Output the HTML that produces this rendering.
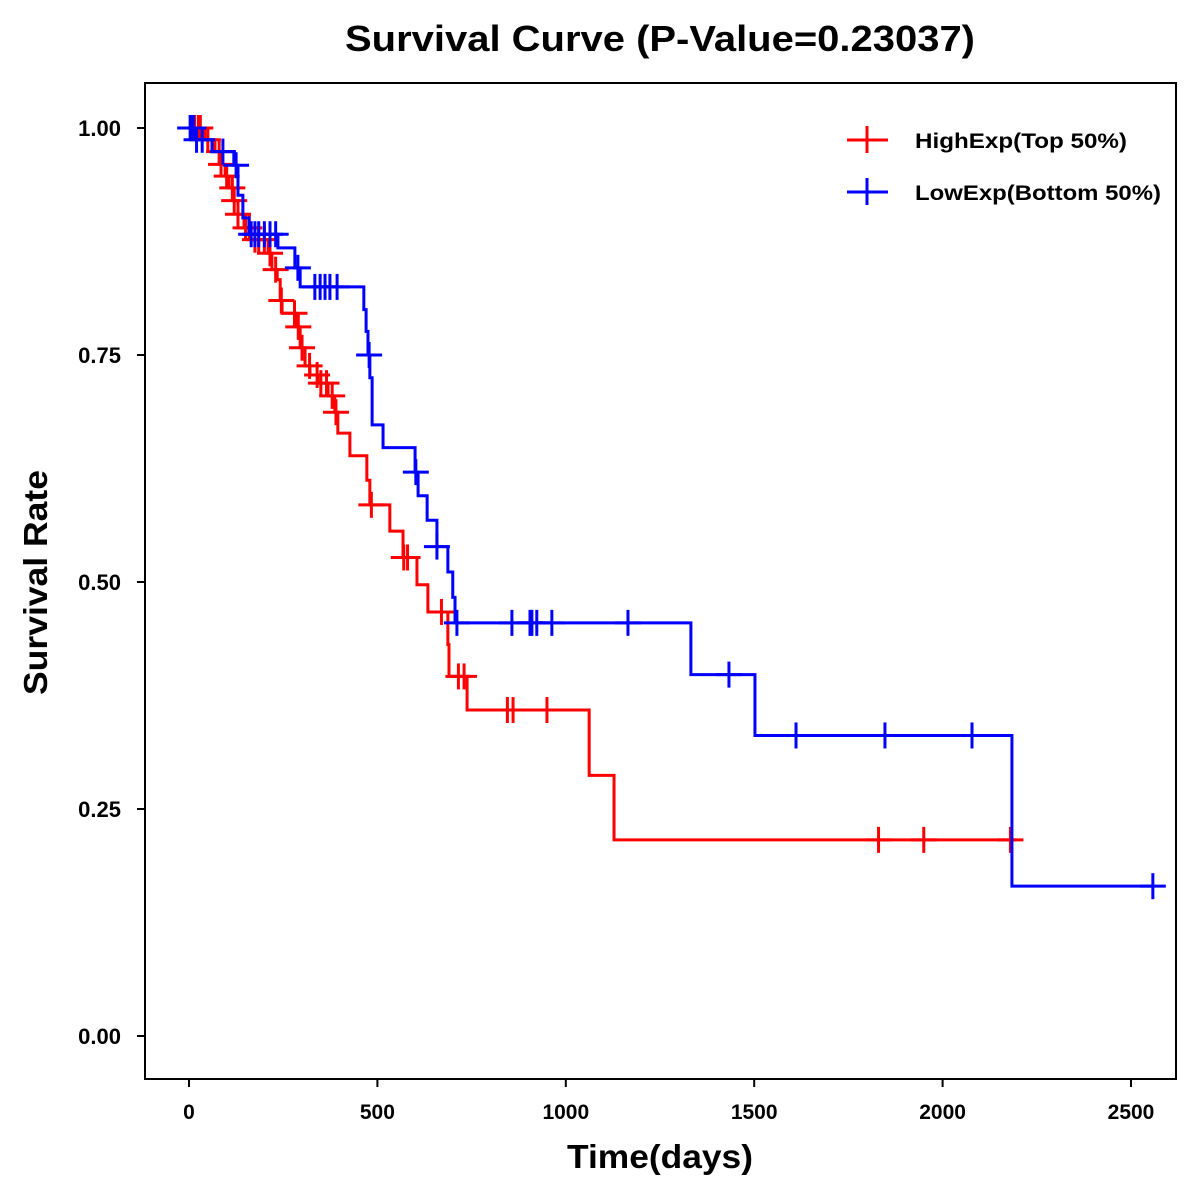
<!DOCTYPE html>
<html><head><meta charset="utf-8"><style>
html,body{margin:0;padding:0;background:#fff;}
svg{display:block;font-family:"Liberation Sans",Arial,sans-serif;font-weight:bold;}
</style></head><body>
<svg id="chart" width="1200" height="1200" viewBox="0 0 1200 1200">
<text x="345" y="51" font-size="36" textLength="630" lengthAdjust="spacingAndGlyphs">Survival Curve (P-Value=0.23037)</text>
<rect x="145" y="83" width="1031" height="996" fill="none" stroke="#000" stroke-width="2"/>
<g id="axes"></g>
<g id="series"></g>
<text x="567" y="1168" font-size="33" textLength="186" lengthAdjust="spacingAndGlyphs">Time(days)</text>
<text transform="translate(47,695) rotate(-90)" font-size="33" textLength="225" lengthAdjust="spacingAndGlyphs">Survival Rate</text>
<g>
<g>
<line x1="847" y1="140" x2="888" y2="140" stroke="#f00" stroke-width="3"/><line x1="867" y1="126" x2="867" y2="153" stroke="#f00" stroke-width="3"/>
<text x="915" y="148" font-size="21" textLength="212" lengthAdjust="spacingAndGlyphs">HighExp(Top 50%)</text></g>
<g>
<line x1="847" y1="192" x2="888" y2="192" stroke="#00f" stroke-width="3"/><line x1="867" y1="178" x2="867" y2="205" stroke="#00f" stroke-width="3"/>
<text x="915" y="200" font-size="21" textLength="246" lengthAdjust="spacingAndGlyphs">LowExp(Bottom 50%)</text></g>
</g>
</svg>
<script>
const xTicks=[0,500,1000,1500,2000,2500];
const yTicks=[0,0.25,0.5,0.75,1.0];
const yTickLabels=["0.00","0.25","0.50","0.75","1.00"];
const highTimes=[0,42,69,82,96,106,117,130,146,162,210,220,234,242,247,284,295,308,321,342,369,387,395,427,472,480,533,568,605,634,687,690,738,1062,1128];
const highSurv=[1,0.987,0.974,0.96,0.947,0.934,0.92,0.905,0.89,0.877,0.862,0.844,0.833,0.81,0.796,0.781,0.758,0.738,0.728,0.719,0.705,0.687,0.664,0.639,0.612,0.585,0.556,0.527,0.497,0.467,0.431,0.396,0.359,0.287,0.216];
const highEnd=2195;
const highCensor=[15,25,30,50,80,85,100,115,120,130,150,160,175,185,200,215,230,245,280,290,300,320,340,350,365,380,390,484,570,580,670,715,730,845,860,950,1830,1950,2180];
const lowTimes=[0,18,61,119,130,143,159,236,281,295,464,470,475,480,486,515,600,608,632,658,687,700,706,1332,1502,2184];
const lowSurv=[1,0.987,0.974,0.959,0.926,0.901,0.883,0.868,0.846,0.825,0.8,0.776,0.75,0.725,0.673,0.648,0.621,0.595,0.568,0.539,0.511,0.483,0.455,0.398,0.331,0.165];
const lowEnd=2560;
const lowCensor=[3,8,12,20,35,90,125,165,175,185,200,215,230,289,334,348,361,374,393,478,602,658,711,857,905,910,923,963,1165,1433,1611,1847,2078,2558];

const NS="http://www.w3.org/2000/svg";
const X=t=>189+t*0.3768;
const Y=s=>1036-s*908;
function mk(tag,attrs,parent){const e=document.createElementNS(NS,tag);for(const k in attrs)e.setAttribute(k,attrs[k]);parent.appendChild(e);return e;}
const axes=document.getElementById('axes');
xTicks.forEach(t=>{
  const l=mk('line',{x1:X(t),x2:X(t),y1:1079,y2:1087,stroke:'#000','stroke-width':2},axes);
  
  
  const tx=mk('text',{x:X(t),y:1119,'font-size':21,'text-anchor':'middle'},axes);
  tx.textContent=t;
  
  
});
yTicks.forEach((v,i)=>{
  const l=mk('line',{x1:137,x2:145,y1:Y(v),y2:Y(v),stroke:'#000','stroke-width':2},axes);
  
  
  const tx=mk('text',{x:121,y:Y(v)+8,'font-size':22,'text-anchor':'end'},axes);
  tx.textContent=yTickLabels[i];
  
  
});
function survAt(times,surv,t){let s=surv[0];for(let i=0;i<times.length;i++){if(times[i]<=t)s=surv[i];}return s;}
const series=document.getElementById('series');
function draw(times,surv,end,cens,color,name){
  let d='M'+X(times[0])+','+Y(surv[0]);
  for(let i=1;i<times.length;i++){d+='H'+X(times[i])+'V'+Y(surv[i]);}
  d+='H'+X(end);
  const p=mk('path',{d:d,fill:'none',stroke:color,'stroke-width':3},series);
  
  
  cens.forEach(t=>{
    const s=survAt(times,surv,t);
    const g=mk('g',{},series);
    
    
    mk('line',{x1:X(t)-13,x2:X(t)+13,y1:Y(s),y2:Y(s),stroke:color,'stroke-width':3},g);
    mk('line',{x1:X(t),x2:X(t),y1:Y(s)-13,y2:Y(s)+13,stroke:color,'stroke-width':3},g);
  });
}
draw(highTimes,highSurv,highEnd,highCensor,'#f00','high-exp');
draw(lowTimes,lowSurv,lowEnd,lowCensor,'#00f','low-exp');
</script>
</body></html>
